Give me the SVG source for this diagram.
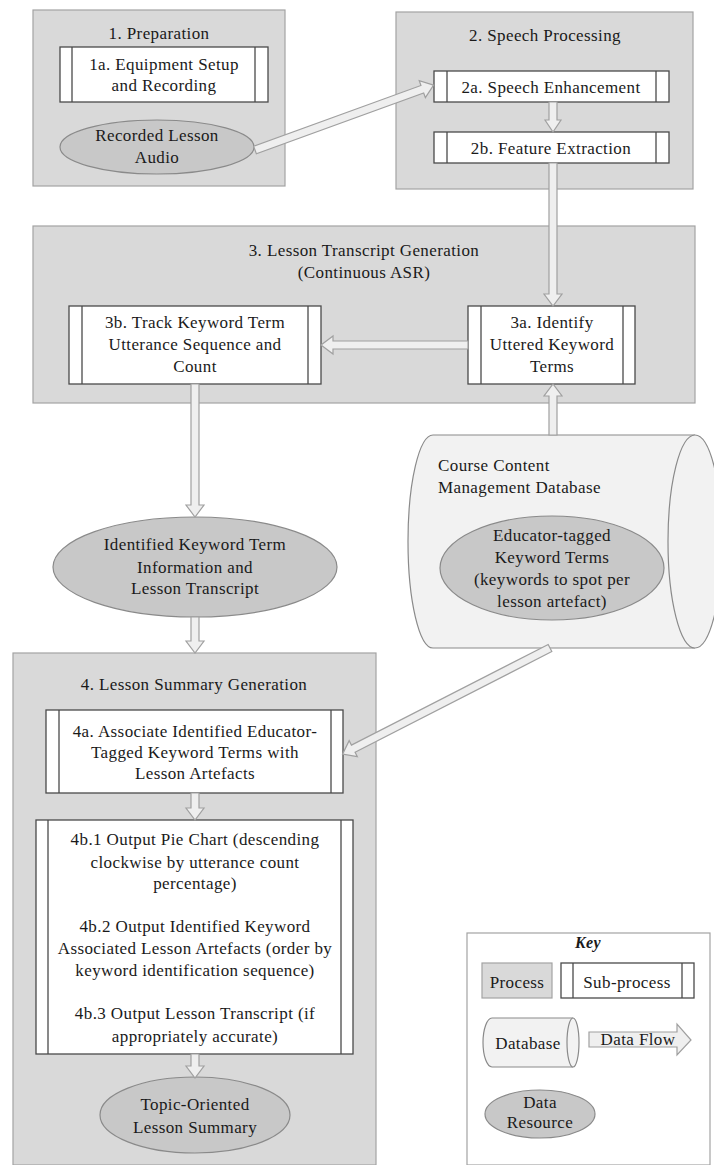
<svg xmlns="http://www.w3.org/2000/svg" width="714" height="1165" viewBox="0 0 714 1165" font-family="Liberation Serif, DejaVu Serif, serif">
<style>
.proc{fill:#d9d9d9;stroke:#a3a3a3;stroke-width:1.2}
.sub{fill:#ffffff;stroke:#4a4a4a;stroke-width:1.3}
.subl{stroke:#4a4a4a;stroke-width:1.3}
.res{fill:#c8c8c8;stroke:#8a8a8a;stroke-width:1.2}
.db{fill:#f2f2f2;stroke:#8a8a8a;stroke-width:1.2}
.arr{fill:#efefef;stroke:#a0a0a0;stroke-width:1.2}
text{font-size:17px;letter-spacing:0.4px;fill:#1a1a1a;text-anchor:middle}
.l{text-anchor:start}
.key{font-weight:bold;font-style:italic;font-size:16px}
</style>
<rect width="714" height="1165" fill="#ffffff"/>

<g id="p1">
<rect class="proc" x="33" y="10" width="252" height="176"/>
<text x="159" y="39">1. Preparation</text>
</g>
<g id="p1a">
<rect class="sub" x="60" y="47" width="208" height="55"/>
<line class="subl" x1="72" y1="47" x2="72" y2="102"/>
<line class="subl" x1="255" y1="47" x2="255" y2="102"/>
<text x="164" y="70">1a. Equipment Setup</text>
<text x="164" y="91">and Recording</text>
</g>
<g id="r1">
<ellipse class="res" cx="157" cy="147" rx="97" ry="27"/>
<text x="157" y="141">Recorded Lesson</text>
<text x="157" y="163">Audio</text>
</g>

<g id="p2">
<rect class="proc" x="396" y="12" width="297" height="177"/>
<text x="545" y="41">2. Speech Processing</text>
</g>
<g id="p2a">
<rect class="sub" x="434" y="71" width="235" height="31"/>
<line class="subl" x1="447" y1="71" x2="447" y2="102"/>
<line class="subl" x1="656" y1="71" x2="656" y2="102"/>
<text x="551" y="93">2a. Speech Enhancement</text>
</g>
<g id="p2b">
<rect class="sub" x="434" y="132" width="235" height="31"/>
<line class="subl" x1="447" y1="132" x2="447" y2="163"/>
<line class="subl" x1="656" y1="132" x2="656" y2="163"/>
<text x="551" y="154">2b. Feature Extraction</text>
</g>

<g id="p3">
<rect class="proc" x="33" y="226" width="662" height="177"/>
<text x="364" y="256">3. Lesson Transcript Generation</text>
<text x="364" y="278">(Continuous ASR)</text>
</g>
<g id="p3b">
<rect class="sub" x="69" y="306" width="252" height="78"/>
<line class="subl" x1="82" y1="306" x2="82" y2="384"/>
<line class="subl" x1="308" y1="306" x2="308" y2="384"/>
<text x="195" y="328">3b. Track Keyword Term</text>
<text x="195" y="350">Utterance Sequence and</text>
<text x="195" y="372">Count</text>
</g>
<g id="p3a">
<rect class="sub" x="468" y="306" width="167" height="78"/>
<line class="subl" x1="481" y1="306" x2="481" y2="384"/>
<line class="subl" x1="623" y1="306" x2="623" y2="384"/>
<text x="552" y="328">3a. Identify</text>
<text x="552" y="350">Uttered Keyword</text>
<text x="552" y="372">Terms</text>
</g>

<g id="db">
<path class="db" d="M433,435 L695,435 A27,106.5 0 0 1 695,648 L433,648 A25,106.5 0 0 1 433,435 Z"/>
<path class="db" fill="none" d="M695,435 A27,106.5 0 0 0 695,648"/>
<text class="l" x="438" y="471">Course Content</text>
<text class="l" x="438" y="493">Management Database</text>
</g>
<g id="rdb">
<ellipse class="res" cx="552" cy="568" rx="112" ry="52"/>
<text x="552" y="541">Educator-tagged</text>
<text x="552" y="563">Keyword Terms</text>
<text x="552" y="585">(keywords to spot per</text>
<text x="552" y="607">lesson artefact)</text>
</g>

<g id="r3">
<ellipse class="res" cx="195" cy="567" rx="142" ry="50"/>
<text x="195" y="550">Identified Keyword Term</text>
<text x="195" y="573">Information and</text>
<text x="195" y="594">Lesson Transcript</text>
</g>

<g id="p4">
<rect class="proc" x="13" y="653" width="363" height="512"/>
<text x="194" y="690">4. Lesson Summary Generation</text>
</g>
<g id="p4a">
<rect class="sub" x="46" y="710" width="297" height="83"/>
<line class="subl" x1="59" y1="710" x2="59" y2="793"/>
<line class="subl" x1="331" y1="710" x2="331" y2="793"/>
<text x="195" y="737">4a. Associate Identified Educator-</text>
<text x="195" y="758">Tagged Keyword Terms with</text>
<text x="195" y="779">Lesson Artefacts</text>
</g>
<g id="p4b">
<rect class="sub" x="36" y="820" width="317" height="234"/>
<line class="subl" x1="48" y1="820" x2="48" y2="1054"/>
<line class="subl" x1="341" y1="820" x2="341" y2="1054"/>
<text x="195" y="845">4b.1 Output Pie Chart (descending</text>
<text x="195" y="868">clockwise by utterance count</text>
<text x="195" y="889">percentage)</text>
<text x="195" y="932">4b.2 Output Identified Keyword</text>
<text x="195" y="954">Associated Lesson Artefacts (order by</text>
<text x="195" y="976">keyword identification sequence)</text>
<text x="195" y="1019">4b.3 Output Lesson Transcript (if</text>
<text x="195" y="1042">appropriately accurate)</text>
</g>
<g id="r4">
<ellipse class="res" cx="195" cy="1115" rx="95" ry="38"/>
<text x="195" y="1110">Topic-Oriented</text>
<text x="195" y="1133">Lesson Summary</text>
</g>

<g id="connectors">
<polygon class="arr" transform="translate(255,150) rotate(-19.96)" points="0,-4 178,-4 178,-9 190,0 178,9 178,4 0,4"/>
<polygon class="arr" points="549,102 557,102 557,120 561,120 553,132 545,120 549,120"/>
<polygon class="arr" points="549,163 557,163 557,294 562,294 553,306 544,294 549,294"/>
<polygon class="arr" points="468,341 468,349 333,349 333,354 321,345 333,336 333,341"/>
<polygon class="arr" points="549,435 557,435 557,396 562,396 553,384 544,396 549,396"/>
<polygon class="arr" points="191,384 199,384 199,505 204,505 195,517 186,505 191,505"/>
<polygon class="arr" points="191,617 199,617 199,641 204,641 195,653 186,641 191,641"/>
<polygon class="arr" transform="translate(550,648) rotate(152.9)" points="0,-4 221,-4 221,-9 233,0 221,9 221,4 0,4"/>
<polygon class="arr" points="191,793 199,793 199,808 204,808 195,820 186,808 191,808"/>
<polygon class="arr" points="191,1054 199,1054 199,1066 204,1066 195,1078 186,1066 191,1066"/>
</g>

<g id="key">
<rect x="467" y="933" width="243" height="232" fill="#ffffff" stroke="#a3a3a3" stroke-width="1.2"/>
<text class="key" x="588" y="948">Key</text>
<rect class="proc" x="482" y="963" width="70" height="35"/>
<text x="517" y="988">Process</text>
<rect class="sub" x="561" y="963" width="133" height="35"/>
<line class="subl" x1="573" y1="963" x2="573" y2="998"/>
<line class="subl" x1="682" y1="963" x2="682" y2="998"/>
<text x="627" y="988">Sub-process</text>
<path class="db" d="M492,1018 L573,1018 A6,24.5 0 0 1 573,1067 L492,1067 A9,24.5 0 0 1 492,1018 Z"/>
<path class="db" fill="none" d="M573,1018 A6,24.5 0 0 0 573,1067"/>
<text x="528" y="1049">Database</text>
<polygon class="arr" points="589,1032 677,1032 677,1024 691,1040 677,1055 677,1047 589,1047"/>
<text x="638" y="1045">Data Flow</text>
<ellipse class="res" cx="540" cy="1114" rx="55" ry="24"/>
<text x="540" y="1108">Data</text>
<text x="540" y="1128">Resource</text>
</g>
</svg>
